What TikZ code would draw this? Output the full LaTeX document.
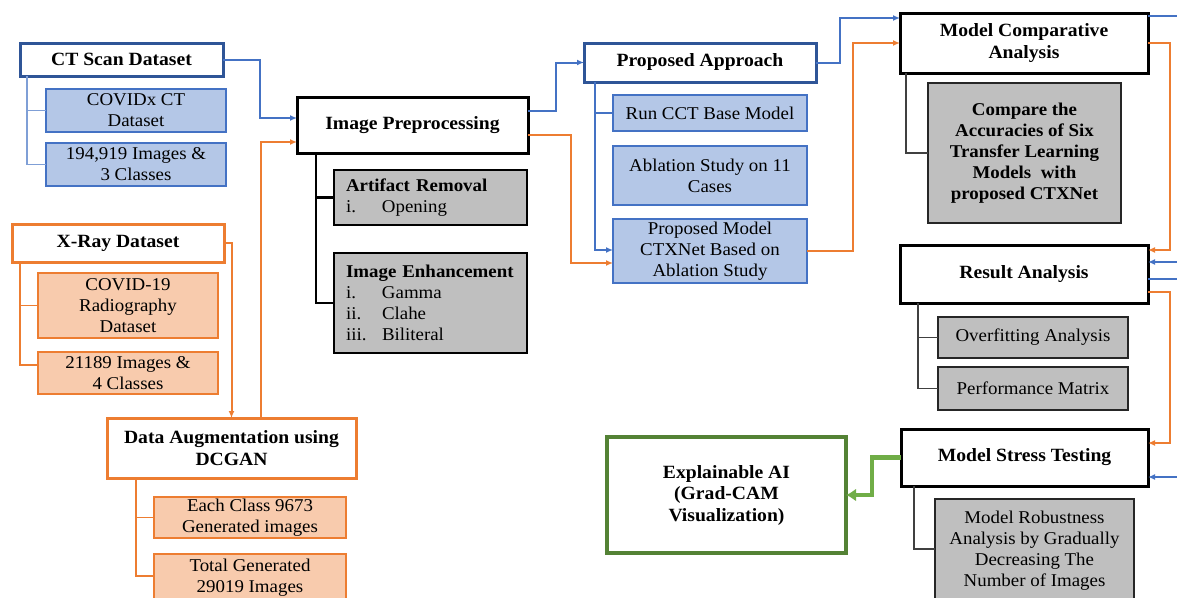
\documentclass[tikz,border=0pt]{standalone}
\usepackage{fontspec}
\setmainfont{Liberation Serif}[FakeStretch=1.05]
\usetikzlibrary{arrows.meta,calc}

\definecolor{bdark}{HTML}{2F5597}
\definecolor{bline}{HTML}{4472C4}
\definecolor{btree}{HTML}{7F9FD6}
\definecolor{bfill}{HTML}{B4C7E7}
\definecolor{oline}{HTML}{ED7D31}
\definecolor{ofill}{HTML}{F8CBAD}
\definecolor{gfill}{HTML}{BFBFBF}
\definecolor{gline}{HTML}{548235}
\definecolor{garrow}{HTML}{70AD47}

\newcommand{\basefont}{\fontsize{18}{21}\selectfont}
\newcommand{\headfont}{\fontsize{18.7}{21.5}\selectfont\bfseries}
\newcommand{\itm}[1]{\makebox[36pt][l]{#1}}

\tikzset{
  corners/.style args={#1,#2,#3,#4}{at={({(#1+#3)/2},{(#2+#4)/2})},
    minimum width={(#3-#1)*1pt}, minimum height={(#4-#2)*1pt}},
  basebox/.style={inner sep=0pt, align=center, outer sep=0pt, font=\basefont},
  mainbox/.style={basebox, draw=black, line width=3pt, fill=white, font=\headfont},
  bluemain/.style={mainbox, draw=bdark},
  orangemain/.style={mainbox, draw=oline},
  greenmain/.style={mainbox, draw=gline, line width=3.4pt},
  bluesub/.style={basebox, draw=bline, line width=1.5pt, fill=bfill},
  orangesub/.style={basebox, draw=oline, line width=1.5pt, fill=ofill},
  graysub/.style={basebox, draw=black!85, line width=1.9pt, fill=gfill},
  graybold/.style={graysub, font=\basefont\bfseries},
  graylist/.style={basebox, draw=black, line width=2.8pt, fill=gfill, align=left,
    inner xsep=12pt, text width=169pt},
  tip/.style={-{Latex[length=7pt,width=6pt]}},
  bluearr/.style={draw=bline, line width=2pt, tip},
  orangearr/.style={draw=oline, line width=2pt, tip},
  blueline/.style={draw=bline, line width=2pt},
  greenarr/.style={draw=garrow, line width=4.4pt, -{Latex[length=10pt,width=13pt]}},
  treeblue/.style={draw=btree, line width=1.5pt},
  treeorange/.style={draw=oline, line width=1.5pt},
  treeblack/.style={draw=black, line width=2.8pt},
  treegray/.style={draw=black!75, line width=1.5pt},
}

\begin{document}
\begin{tikzpicture}[x=1pt, y=-1pt]
\useasboundingbox (0,0) rectangle (1177,597);

% ---- CT scan branch
\node[bluemain, corners={20,43,223,76}] (ct) {CT Scan Dataset};
\node[bluesub, corners={46,89,226,132}] (ctA) {COVIDx CT\\Dataset};
\node[bluesub, corners={46,143,226,186}] (ctB) {194,919 Images \&\\3 Classes};

% ---- X-ray branch
\node[orangemain, corners={12,224,224,262}] (xr) {X-Ray Dataset};
\node[orangesub, corners={38,273,218,338}] (xrA) {COVID-19\\Radiography\\Dataset};
\node[orangesub, corners={38,352,218,394}] (xrB) {21189 Images \&\\4 Classes};

% ---- augmentation
\node[orangemain, corners={107,418,356,478}] (da) {Data Augmentation using\\DCGAN};
\node[orangesub, corners={154,497,346,538}] (daA) {Each Class 9673\\Generated images};
\node[orangesub, corners={154,554,346,602}] (daB) {Total Generated\\29019 Images};

% ---- preprocessing
\node[mainbox, corners={297,97,528,153}] (ip) {Image Preprocessing};
\node[graylist, corners={334,170,527,225}] (ar) {\textbf{Artifact Removal}\\\itm{i.}Opening};
\node[graylist, corners={334,253,527,353}] (ie) {\textbf{Image Enhancement}\\\itm{i.}Gamma\\\itm{ii.}Clahe\\\itm{iii.}Biliteral};

% ---- proposed approach
\node[bluemain, corners={584,43,816,82}] (pa) {Proposed Approach};
\node[bluesub, corners={613,95,807,131}] (pa1) {Run CCT Base Model};
\node[bluesub, corners={613,146,807,205}] (pa2) {Ablation Study on 11\\Cases};
\node[bluesub, corners={613,219,807,283}] (pa3) {Proposed Model\\CTXNet Based on\\Ablation Study};

% ---- right column
\node[mainbox, corners={900,13,1148,73}] (mca) {Model Comparative\\Analysis};
\node[graybold, corners={928,83,1121,223}] (mcaA) {Compare the\\Accuracies of Six\\Transfer Learning\\Models~ with\\proposed CTXNet};
\node[mainbox, corners={900,245,1148,303}] (ra) {Result Analysis};
\node[graysub, corners={938,317,1128,358}] (ra1) {Overfitting Analysis};
\node[graysub, corners={938,367,1128,410}] (ra2) {Performance Matrix};
\node[mainbox, corners={901,429,1148,486}] (mst) {Model Stress Testing};
\node[graysub, corners={935,499,1134,603}] (mstA) {Model Robustness\\Analysis by Gradually\\Decreasing The\\Number of Images};
\node[greenmain, corners={607,437,846,553}] (xai) {Explainable AI\\(Grad-CAM\\Visualization)};

% ---- free ends at the right margin
\coordinate (outA) at (1180,16);
\coordinate (inB) at (1180,262);
\coordinate (outB) at (1180,279);
\coordinate (inC) at (1180,477);

% ---- sub-item trees
\draw[treeblue] ([xshift=7pt]ct.south west) |- (ctB.west);
\draw[treeblue] ([xshift=7pt]ct.south west |- ctA.west) -- (ctA.west);
\draw[treeorange] ([xshift=8pt]xr.south west) |- ([yshift=8pt]xrB.west);
\draw[treeorange] ([xshift=8pt]xr.south west |- xrA.west) -- (xrA.west);
\draw[treeorange] ([xshift=29pt]da.south west) |- ([yshift=2pt]daB.west);
\draw[treeorange] ([xshift=29pt]da.south west |- daA.west) -- (daA.west);
\draw[treeblack] ([xshift=19pt]ip.south west) |- (ie.west);
\draw[treeblack] ([xshift=19pt]ip.south west |- ar.west) -- (ar.west);
\draw[treegray] ([xshift=6pt]mca.south west) |- (mcaA.west);
\draw[treegray] ([xshift=18pt]ra.south west) |- (ra2.west);
\draw[treegray] ([xshift=18pt]ra.south west |- ra1.west) -- (ra1.west);
\draw[treegray] ([xshift=13pt]mst.south west) |- ([yshift=2pt]mstA.west);
\draw[bluearr] ([xshift=11pt]pa.south west) |- ([yshift=1pt]pa3.west);
\draw[blueline, line width=1.6pt] ([xshift=11pt]pa.south west |- pa1.west) -- (pa1.west);

% ---- flow connectors
\draw[bluearr] (ct.east) -| ([xshift=-37pt,yshift=7pt]ip.west) -- ([yshift=7pt]ip.west);
\draw[orangearr] (xr.east) -| (da.north);
\draw[orangearr] ([xshift=29.5pt]da.north) |- ([yshift=-17pt]ip.west);
\draw[bluearr] ([yshift=14pt]ip.east) -| ([xshift=-28pt]pa.west) -- (pa.west);
\draw[orangearr] ([yshift=-10pt]ip.east) -| ([xshift=-42pt,yshift=-12pt]pa3.west) -- ([yshift=-12pt]pa3.west);
\draw[bluearr] (pa.east) -| ([xshift=-60pt,yshift=25pt]mca.west) -- ([yshift=25pt]mca.west);
\draw[orangearr] (pa3.east) -| ([xshift=-47pt]mca.west) -- (mca.west);
\draw[blueline] ([yshift=27pt]mca.east) -- (outA);
\draw[orangearr] (mca.east) -| ([xshift=22pt,yshift=24pt]ra.east) -- ([yshift=24pt]ra.east);
\draw[bluearr] (inB) -- ([yshift=12pt]ra.east);
\draw[blueline] ([yshift=-5pt]ra.east) -- (outB);
\draw[orangearr] ([yshift=-18pt]ra.east) -| ([xshift=22pt,yshift=14.5pt]mst.east) -- ([yshift=14.5pt]mst.east);
\draw[bluearr] (inC) -- ([yshift=-19.5pt]mst.east);
\draw[greenarr] (mst.west) -| ([xshift=26pt]xai.east) -- (xai.east);
\end{tikzpicture}
\end{document}
